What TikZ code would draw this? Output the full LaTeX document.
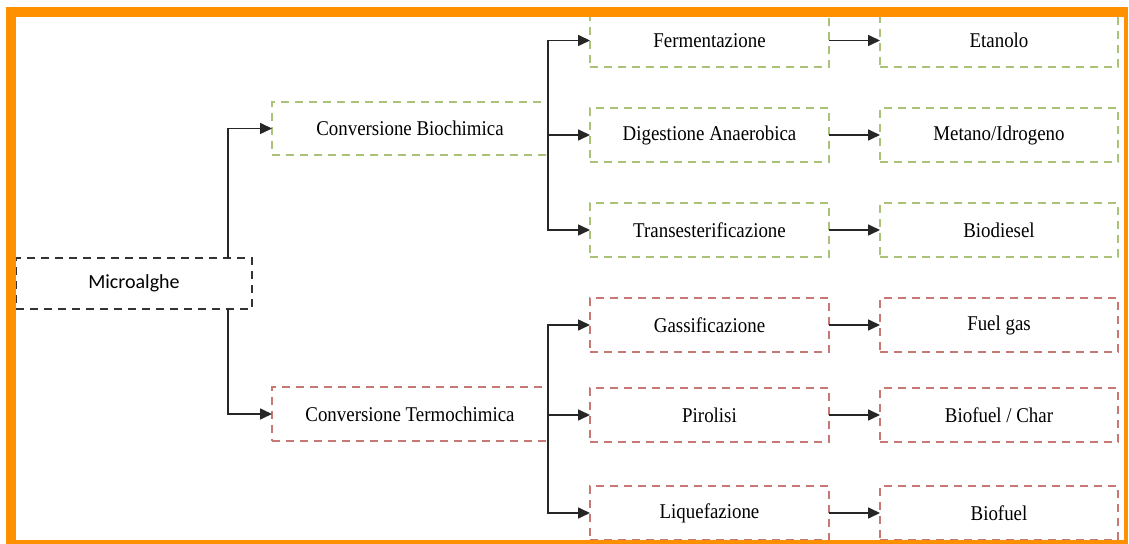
\documentclass[tikz,border=0pt]{standalone}
\usepackage{fontspec}
\setmainfont{Liberation Serif}[FakeStretch=0.9]
\newfontfamily\carlito{Carlito}
\usetikzlibrary{positioning,calc,arrows.meta}
\definecolor{bioGreen}{RGB}{170,195,120}
\definecolor{termoRed}{RGB}{200,120,115}
\definecolor{frameOrange}{RGB}{255,145,0}

\begin{document}
\begin{tikzpicture}[x=0.5pt, y=-0.5pt, >={Triangle[length=6pt,width=5.5pt]},
  box/.style={draw=#1, dash pattern=on 4pt off 3pt, line width=1pt, inner sep=0pt, outer sep=0pt,
    minimum height=27pt, font=\fontsize{10.5}{12}\selectfont},
  proc/.style={box=#1, minimum width=119.5pt},
  prod/.style={box=#1, minimum width=119pt},
  conn/.style={->, line width=0.8pt, black!85}]
\useasboundingbox (0,0) rectangle (1129,544);
\node[box=black!80, minimum width=118pt, minimum height=25.5pt, font=\carlito\fontsize{10}{12}\selectfont] (micro) at (134,283.5) {Microalghe};
\node[box=bioGreen, minimum width=138pt, minimum height=26.5pt] (bio) at (410,128.5) {Conversione Biochimica};
\node[box=termoRed, minimum width=138pt] (termo) at (410,414) {Conversione Termochimica};
% processi
\node[proc=bioGreen] (ferm) at (709.5,40.5) {Fermentazione};
\node[proc=bioGreen] (dig) at (709.5,135) {Digestione Anaerobica};
\node[proc=bioGreen] (trans) at (709.5,230) {Transesterificazione};
\node[proc=termoRed] (gass) at (709.5,325) {Gassificazione};
\node[proc=termoRed] (piro) at (709.5,415) {Pirolisi};
\node[proc=termoRed] (liq) at (709.5,513) {Liquefazione};
% prodotti
\node[prod=bioGreen] (etan) at (999,40.5) {Etanolo};
\node[prod=bioGreen] (metan) at (999,135) {Metano/Idrogeno};
\node[prod=bioGreen] (biodiesel) at (999,230) {Biodiesel};
\node[prod=termoRed] (fuelgas) at (999,325) {Fuel gas};
\node[prod=termoRed] (char) at (999,415) {Biofuel / Char};
\node[prod=termoRed] (biofuel) at (999,513) {Biofuel};
% collegamenti
\draw[conn] ([xshift=-12pt]micro.north east) |- (bio.west);
\draw[conn] ([xshift=-12pt]micro.south east) |- (termo.west);
\draw[conn] (bio.east) |- (ferm.west);
\draw[conn] (bio.east) |- (dig.west);
\draw[conn] (bio.east) |- (trans.west);
\draw[conn] (termo.east) |- (gass.west);
\draw[conn] (termo.east) |- (piro.west);
\draw[conn] (termo.east) |- (liq.west);
\draw[conn] (ferm.east) -- (etan.west);
\draw[conn] (dig.east) -- (metan.west);
\draw[conn] (trans.east) -- (biodiesel.west);
\draw[conn] (gass.east) -- (fuelgas.west);
\draw[conn] (piro.east) -- (char.west);
\draw[conn] (liq.east) -- (biofuel.west);
% cornice
\fill[frameOrange] (6,7) rectangle (1128,17);
\fill[frameOrange] (6,7) rectangle (16,544);
\fill[frameOrange] (1124,7) rectangle (1128,544);
\fill[frameOrange] (6,540) rectangle (1128,544);
\end{tikzpicture}
\end{document}
